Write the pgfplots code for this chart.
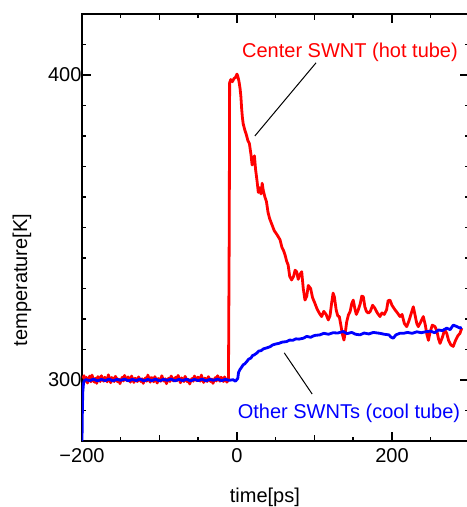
\documentclass[border=0pt]{standalone}
\usepackage{fontspec}
\setmainfont{Liberation Sans}
\usepackage{pgfplots}
\pgfplotsset{compat=1.18}
\begin{document}
\begin{tikzpicture}[font=\fontsize{20bp}{24bp}\selectfont]
\begin{axis}[
  scale only axis, width=387.5bp, height=427bp,
  xmin=-200, xmax=300, ymin=280, ymax=420,
  axis line style={line width=1.5bp},
  every tick/.style={black, line width=1.5bp},
  xtick={-200,0,200}, xticklabels={−200,0,200},
  minor xtick={-150,-50,50,150,250},
  extra x ticks={-100,100}, extra x tick labels={},
  extra x tick style={major tick length=6bp},
  ytick={300,400}, yticklabels={300,400},
  minor ytick={280,290,310,320,330,340,350,360,370,380,390,410,420},
  major tick length=9bp, minor tick length=4bp,
  xticklabel style={yshift=-4bp},
  yticklabel style={xshift=3bp},
  xlabel={time[ps]},
  xlabel style={at={(axis description cs:0.472,-0.145)}, anchor=base},
  ylabel={temperature[K]},
  ylabel style={at={(axis description cs:-0.155,0.377)}, anchor=center, rotate=0},
  clip=true,
]
\addplot[red, line width=2.8bp, line join=round] coordinates {
(-199,300.5) (-197.5,301.4) (-196,299.6) (-194.5,300.9) (-193,299.0) (-191.5,300.2) (-190,301.3) (-188.5,299.4) (-187,301.6) (-185.5,300.1) (-184,299.3) (-182.5,300.6) (-181,298.9)
(-179.5,301.1) (-178,300.6) (-176.5,299.5) (-175,301.4) (-173.5,300.3) (-172,299.6) (-170.5,300.9) (-169,300.2) (-167.5,299.4) (-166,301.7) (-164.5,300.5) (-163,299.1)
(-161.5,300.8) (-160,300.3) (-158.5,299.5) (-157,301.2) (-155.5,300.6) (-154,299.4) (-152.5,300.3) (-151,298.8) (-149.5,300.1) (-148,300.9) (-146.5,299.7) (-145,301.5)
(-143.5,300.4) (-142,299.8) (-140.5,301.0) (-139,300.4) (-137.5,299.3) (-136,301.3) (-134.5,300.2) (-133,299.2) (-131.5,300.6) (-130,300.1) (-128.5,299.5) (-127,301.0)
(-125.5,300.3) (-124,299.5) (-122.5,300.4) (-121,298.9) (-119.5,300.0) (-118,300.7) (-116.5,299.6) (-115,301.6) (-113.5,300.5) (-112,299.3) (-110.5,300.8) (-109,300.5)
(-107.5,299.4) (-106,301.1) (-104.5,300.2) (-103,299.0) (-101.5,300.5) (-100,300.2) (-98.5,299.6) (-97,301.4) (-95.5,300.3) (-94,299.6) (-92.5,300.4) (-91,298.8)
(-89.5,300.1) (-88,300.6) (-86.5,299.5) (-85,301.3) (-83.5,300.6) (-82,299.7) (-80.5,300.4) (-79,300.9) (-77.5,299.8) (-76,301.5) (-74.5,300.4) (-73,299.1)
(-71.5,300.7) (-70,300.0) (-68.5,299.5) (-67,301.2) (-65.5,300.3) (-64,299.4) (-62.5,300.2) (-61,298.7) (-59.5,299.9) (-58,300.5) (-56.5,299.6) (-55,301.3)
(-53.5,300.5) (-52,299.8) (-50.5,300.9) (-49,300.7) (-47.5,299.6) (-46,301.6) (-44.5,300.3) (-43,299.2) (-41.5,300.6) (-40,300.3) (-38.5,299.5) (-37,301.1)
(-35.5,300.4) (-34,299.5) (-32.5,300.3) (-31,298.9) (-29.5,300.0) (-28,300.8) (-26.5,299.7) (-25,301.4) (-23.5,300.5) (-22,299.6) (-20.5,300.9) (-19,300.4)
(-17.5,299.5) (-16,301.0) (-14.5,300.2) (-13,299.3) (-11,300.2) (-10,350) (-9.5,397.5) (-8,398.5) (-6,397.8) (-4,398.8) (-2,399.2)
(0,400.3) (1,399.6) (2.5,398) (4,395.5) (5,393) (6,389) (7,386) (8,384) (10,382) (12,380.5)
(14,378.5) (16,377.5) (18,374) (19.5,370.5) (21,371.5) (22.5,373.5) (24,369) (26,365) (27.5,361.5) (29,363)
(31,361) (32.5,364.5) (34,362) (36,360) (38,358.5) (40,355) (42,353) (45,351) (48,349) (52,347.5)
(55.5,346) (58,343.5) (60,342.5) (62,341) (64,339) (66,337.7) (68,334) (70.5,332.8) (73,334) (75,336)
(77,335.5) (79,333) (81,334.5) (83.5,335.5) (85.5,330) (87.7,326.2) (90,327.5) (92,331) (95,330) (97.5,327)
(100.6,325.1) (103,323.5) (106,322) (109.2,320.8) (112,322.5) (115,321.5) (117.8,319.7) (120,321) (122,325) (124,328.5)
(125.6,327.3) (128,323) (130,321) (132,320.8) (134,318) (136,315) (138,313.1) (140,316) (141.5,319) (143.7,321.3)
(146,322.5) (148,325) (150,326.2) (152,323.5) (154,321.5) (156.5,323) (159,325) (161,327.5) (163,327.3) (165,324)
(167,322.5) (169.5,321.9) (172,322.5) (175,324.5) (178,323.5) (181,322) (184.5,320.8) (187,322) (190,321.5) (193,323)
(195,326) (197.4,326.2) (200,324.5) (203.9,323) (207,322) (210.3,320.8) (213,321.5) (216,318.5) (219,317.5) (222,319.5)
(225,322) (227.5,324) (230,321) (232,318.5) (234,317.5) (237,319) (240.4,320.8) (243,318) (245,315) (247,313)
(249,315.5) (252,318) (255.5,317.5) (258,316) (260,313.5) (262,312) (265,314) (268,316.5) (270.6,315.3) (273,313)
(276,311.5) (279,311) (282,313) (285,314.5) (287.7,315.3) (290,317)
};
\addplot[blue, line width=2.8bp, line join=round] coordinates {
(-200,280) (-199.5,290) (-199,296) (-198,299) (-197,299.8) (-195,300.1) (-190,299.8) (-185,300.3) (-180,299.7) (-175,300.2)
(-170,299.8) (-165,300.3) (-160,299.7) (-155,300.2) (-150,299.9) (-145,300.3) (-140,299.7) (-135,300.2) (-130,299.8) (-125,300.3)
(-120,299.7) (-115,300.2) (-110,299.8) (-105,300.3) (-100,299.7) (-95,300.2) (-90,299.9) (-85,300.3) (-80,299.7) (-75,300.2)
(-70,299.8) (-65,300.3) (-60,299.7) (-55,300.2) (-50,299.8) (-45,300.3) (-40,299.7) (-35,300.2) (-30,299.9) (-25,300.3)
(-20,299.8) (-15,300.2) (-10,299.9) (-5,300.1) (-2,299.6) (0,300.2) (1,300.5) (2,302.5) (4,303.5) (6,304.2)
(8,305) (10,305.3) (12.5,306) (15,306.8) (18,307.2) (20,308) (22,308.2) (25.4,308.8) (28,309.5) (31,309.6)
(34,310.2) (38,310.5) (42.6,310.9) (46,311.5) (50,311.8) (54,312.0) (58,312.4) (64,312.6) (68,313.1) (72,313.0)
(76,313.5) (80,313.4) (85.6,313.7) (90,314.3) (95,314.0) (100,314.6) (107,314.8) (112,315.3) (118,315.0) (124,315.5)
(130,315.4) (137,315.9) (142,315.2) (148,315.6) (153,315.0) (158.7,314.8) (164,315.4) (170,315.1) (176,315.6) (184.5,315.3)
(190,315.0) (196,314.8) (199,314.0) (201.7,313.7) (205,314.8) (210,315.3) (214.6,315.3) (220,315.6) (226,315.3) (232,315.8)
(238,315.5) (244.8,315.9) (250,316.0) (255,315.5) (260,316.4) (265,316.2) (270.6,317.0) (275,316.5) (279,318.0) (283,317.6)
(287.7,317.0) (290,317.3)
};
\draw[black, line width=1bp] (axis cs:102,404) -- (axis cs:23,380);
\draw[black, line width=1bp] (axis cs:61,308.9) -- (axis cs:97,295.4);
\node[red, anchor=base, inner sep=0pt] at (axis cs:145.8,405.9) {Center SWNT (hot tube)};
\node[blue, anchor=base, inner sep=0pt] at (axis cs:144.5,287.5) {Other SWNTs (cool tube)};
\end{axis}
\pgfresetboundingbox
\path[use as bounding box] ([xshift=-82bp,yshift=-66bp]current axis.south west) rectangle ([xshift=-2.5bp,yshift=14bp]current axis.north east);
\end{tikzpicture}
\end{document}
